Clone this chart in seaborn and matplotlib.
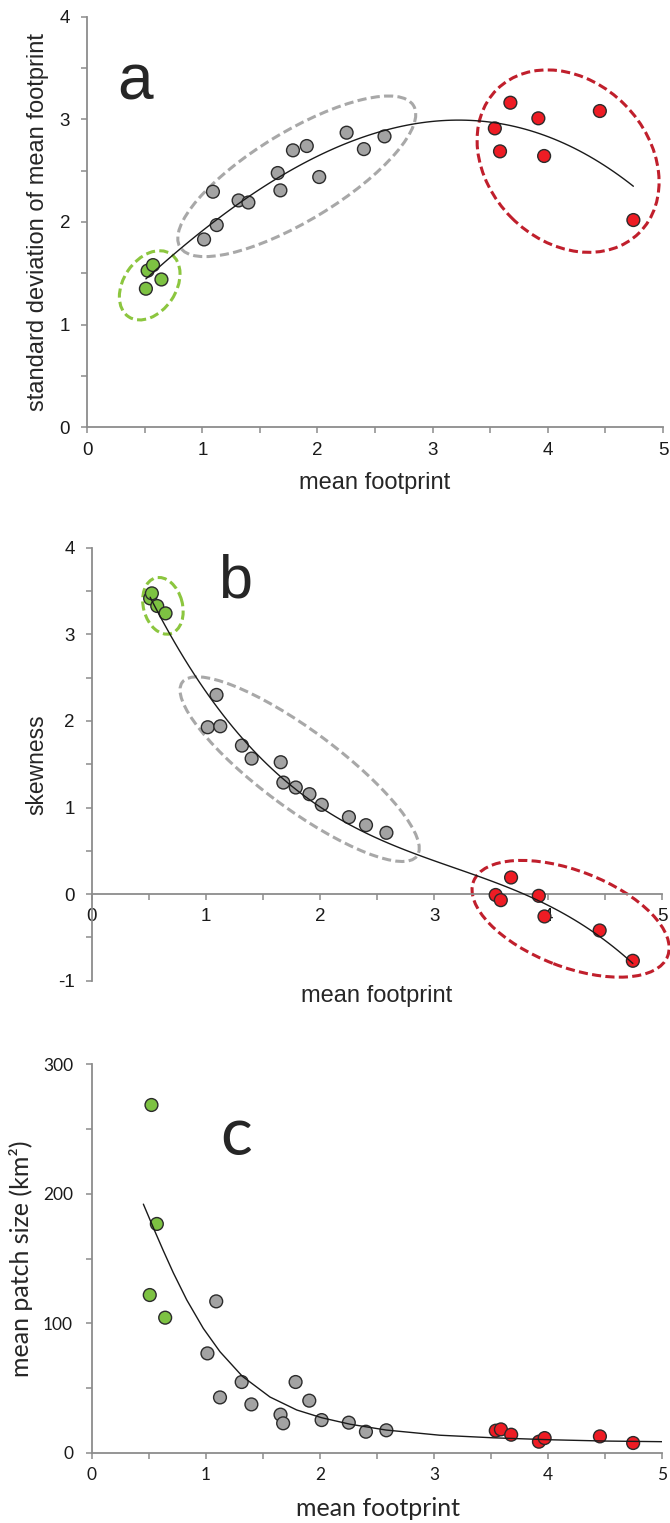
import pandas as pd
import seaborn as sns
import matplotlib.pyplot as plt
import matplotlib.transforms as mtransforms
from matplotlib.patches import Ellipse
from matplotlib.ticker import MultipleLocator

# mean footprint per region, split by cluster
fp_green = [0.51, 0.525, 0.572, 0.645]
fp_grey = [1.015, 1.092, 1.125, 1.315, 1.40, 1.655, 1.678, 1.787, 1.907, 2.015, 2.253, 2.403, 2.582]
fp_red = [3.54, 3.585, 3.675, 3.918, 3.968, 4.452, 4.743]

# (a) standard deviation of mean footprint
sd_green = [1.35, 1.526, 1.58, 1.44]
sd_grey = [1.83, 2.295, 1.97, 2.21, 2.19, 2.477, 2.308, 2.698, 2.74, 2.438, 2.87, 2.71, 2.834]
sd_red = [2.912, 2.688, 3.162, 3.01, 2.643, 3.081, 2.019]

# (b) skewness
sk_green = [3.415, 3.473, 3.327, 3.242]
sk_grey = [1.927, 2.30, 1.938, 1.715, 1.565, 1.523, 1.288, 1.231, 1.154, 1.031, 0.888, 0.796, 0.708]
sk_red = [-0.01, -0.07, 0.192, -0.02, -0.258, -0.42, -0.77]

# (c) mean patch size (km2)
ps_green = [121.8, 268.6, 176.7, 104.3]
ps_grey = [76.7, 116.9, 42.7, 54.6, 37.3, 29.4, 22.7, 54.6, 40.2, 25.2, 23.2, 16.2, 17.3]
ps_red = [17.0, 18.0, 13.9, 8.5, 11.3, 12.6, 7.5]

# (c) trend curve
curve_fp = [0.454, 0.55, 0.629, 0.716, 0.834, 0.979, 1.125, 1.321, 1.563, 1.797,
            2.016, 2.264, 2.58, 3.05, 3.518, 4.015, 4.497, 5.0]
curve_ps = [192, 172, 156, 139, 118, 96, 78, 59, 43, 33,
            27, 22, 17.5, 13.5, 11.5, 10.0, 9.0, 8.5]

groups = ['green'] * len(fp_green) + ['grey'] * len(fp_grey) + ['red'] * len(fp_red)
df = pd.DataFrame({
    'fp': fp_green + fp_grey + fp_red,
    'sd': sd_green + sd_grey + sd_red,
    'sk': sk_green + sk_grey + sk_red,
    'ps': ps_green + ps_grey + ps_red,
    'group': groups,
})
curve_c = pd.DataFrame({'fp': curve_fp, 'ps': curve_ps})

dot_colors = {'green': '#7dc242', 'grey': '#a3a3a3', 'red': '#ee1c24'}
ring_colors = {'green': '#8cc63f', 'grey': '#a8a8a8', 'red': '#c01f2c'}

sns.set_style('white')
plt.rcParams['font.family'] = ['Liberation Sans', 'DejaVu Sans']
plt.rcParams['axes.unicode_minus'] = False

fig = plt.figure(figsize=(6.7, 15.23), dpi=100)
ax_a = fig.add_axes([0.1301, 0.71944, 0.8594, 0.2696])
ax_b = fig.add_axes([0.1373, 0.35607, 0.8510, 0.2843])
ax_c = fig.add_axes([0.1366, 0.04616, 0.8522, 0.2550])

AX_GREY = '#8c8c8c'


def style_axes(ax, font, tick_size, ypad):
    for side in ['top', 'right']:
        ax.spines[side].set_visible(False)
    for side in ['left', 'bottom']:
        ax.spines[side].set_color(AX_GREY)
        ax.spines[side].set_linewidth(1.3)
    ax.tick_params(which='both', direction='out', length=4.3, width=1.1,
                   color=AX_GREY, labelsize=tick_size, labelcolor='#1a1a1a')
    ax.tick_params(axis='y', which='both', pad=ypad, left=True)
    ax.tick_params(axis='x', which='both', pad=6, bottom=True)
    for lab in ax.get_xticklabels() + ax.get_yticklabels():
        lab.set_family(font)


def dots(ax, ycol):
    sns.scatterplot(data=df, x='fp', y=ycol, hue='group', palette=dot_colors,
                    s=85, edgecolor='#2b2b2b', linewidth=1.0, legend=False,
                    zorder=3, ax=ax)


def ring(ax, cx, cy, w, h, ang, color):
    # ellipse sized in pixels, centred on a data point
    tr = fig.dpi_scale_trans + mtransforms.ScaledTranslation(cx, cy, ax.transData)
    ax.add_patch(Ellipse((0, 0), w / 100, h / 100, angle=ang, transform=tr,
                         fill=False, ec=color, lw=2.2, ls=(0, (3, 1.4)),
                         clip_on=False, zorder=2))


line_kws = {'color': '#1a1a1a', 'lw': 1.0, 'zorder': 4}

# ---- panel a
dots(ax_a, 'sd')
sns.regplot(data=df, x='fp', y='sd', order=3, ci=None, scatter=False,
            truncate=True, line_kws=line_kws, ax=ax_a)
ring(ax_a, 0.543, 1.383, 75.7, 52.4, 56, ring_colors['green'])
ring(ax_a, 1.820, 2.445, 273, 89, 31.2, ring_colors['grey'])
ring(ax_a, 4.176, 2.593, 202, 160, -45.3, ring_colors['red'])
ax_a.set_xlim(0, 5)
ax_a.set_ylim(0, 4)
ax_a.xaxis.set_major_locator(MultipleLocator(1))
ax_a.xaxis.set_minor_locator(MultipleLocator(0.5))
ax_a.yaxis.set_major_locator(MultipleLocator(1))
ax_a.yaxis.set_minor_locator(MultipleLocator(0.5))
style_axes(ax_a, 'Liberation Sans', 13.5, 8)
ax_a.set_xlabel('mean footprint', fontsize=17)
ax_a.set_ylabel('standard deviation of mean footprint', fontsize=17)
ax_a.xaxis.set_label_coords(0.5, -0.108)
ax_a.yaxis.set_label_coords(-0.066, 0.5)
ax_a.text(0.265, 3.19, 'a', fontsize=46)

# ---- panel b
dots(ax_b, 'sk')
sns.regplot(data=df, x='fp', y='sk', order=3, ci=None, scatter=False,
            truncate=True, line_kws=line_kws, ax=ax_b)
ring(ax_b, 0.622, 3.329, 57.8, 39, 105, ring_colors['green'])
ring(ax_b, 1.821, 1.443, 292, 78, -36.5, ring_colors['grey'])
ring(ax_b, 4.197, -0.285, 208, 96, -21.1, ring_colors['red'])
ax_b.set_xlim(0, 5)
ax_b.set_ylim(-1, 4)
ax_b.spines['bottom'].set_position(('data', 0))
ax_b.xaxis.set_major_locator(MultipleLocator(1))
ax_b.xaxis.set_minor_locator(MultipleLocator(0.5))
ax_b.yaxis.set_major_locator(MultipleLocator(1))
ax_b.yaxis.set_minor_locator(MultipleLocator(0.5))
style_axes(ax_b, 'Liberation Sans', 13.5, 8)
ax_b.set_xlabel('mean footprint', fontsize=17)
ax_b.set_ylabel('skewness', fontsize=16.5)
ax_b.xaxis.set_label_coords(0.5, -0.01)
ax_b.yaxis.set_label_coords(-0.077, 0.5)
ax_b.text(1.105, 3.42, 'b', fontsize=44)

# ---- panel c
dots(ax_c, 'ps')
sns.lineplot(data=curve_c, x='fp', y='ps', ax=ax_c, **line_kws)
ax_c.set_xlim(0, 5)
ax_c.set_ylim(0, 300)
ax_c.xaxis.set_major_locator(MultipleLocator(1))
ax_c.xaxis.set_minor_locator(MultipleLocator(0.5))
ax_c.yaxis.set_major_locator(MultipleLocator(100))
ax_c.yaxis.set_minor_locator(MultipleLocator(50))
style_axes(ax_c, 'Lato', 12.5, 9)
ax_c.set_xlabel('mean footprint', fontsize=18, family='Lato')
ax_c.set_ylabel('mean patch size (km²)', fontsize=18, family='Lato')
ax_c.xaxis.set_label_coords(0.501, -0.115)
ax_c.yaxis.set_label_coords(-0.1025, 0.5)
ax_c.text(1.13, 230, 'c', fontsize=48, family='Lato')

fig.savefig('out.png', dpi=100)
